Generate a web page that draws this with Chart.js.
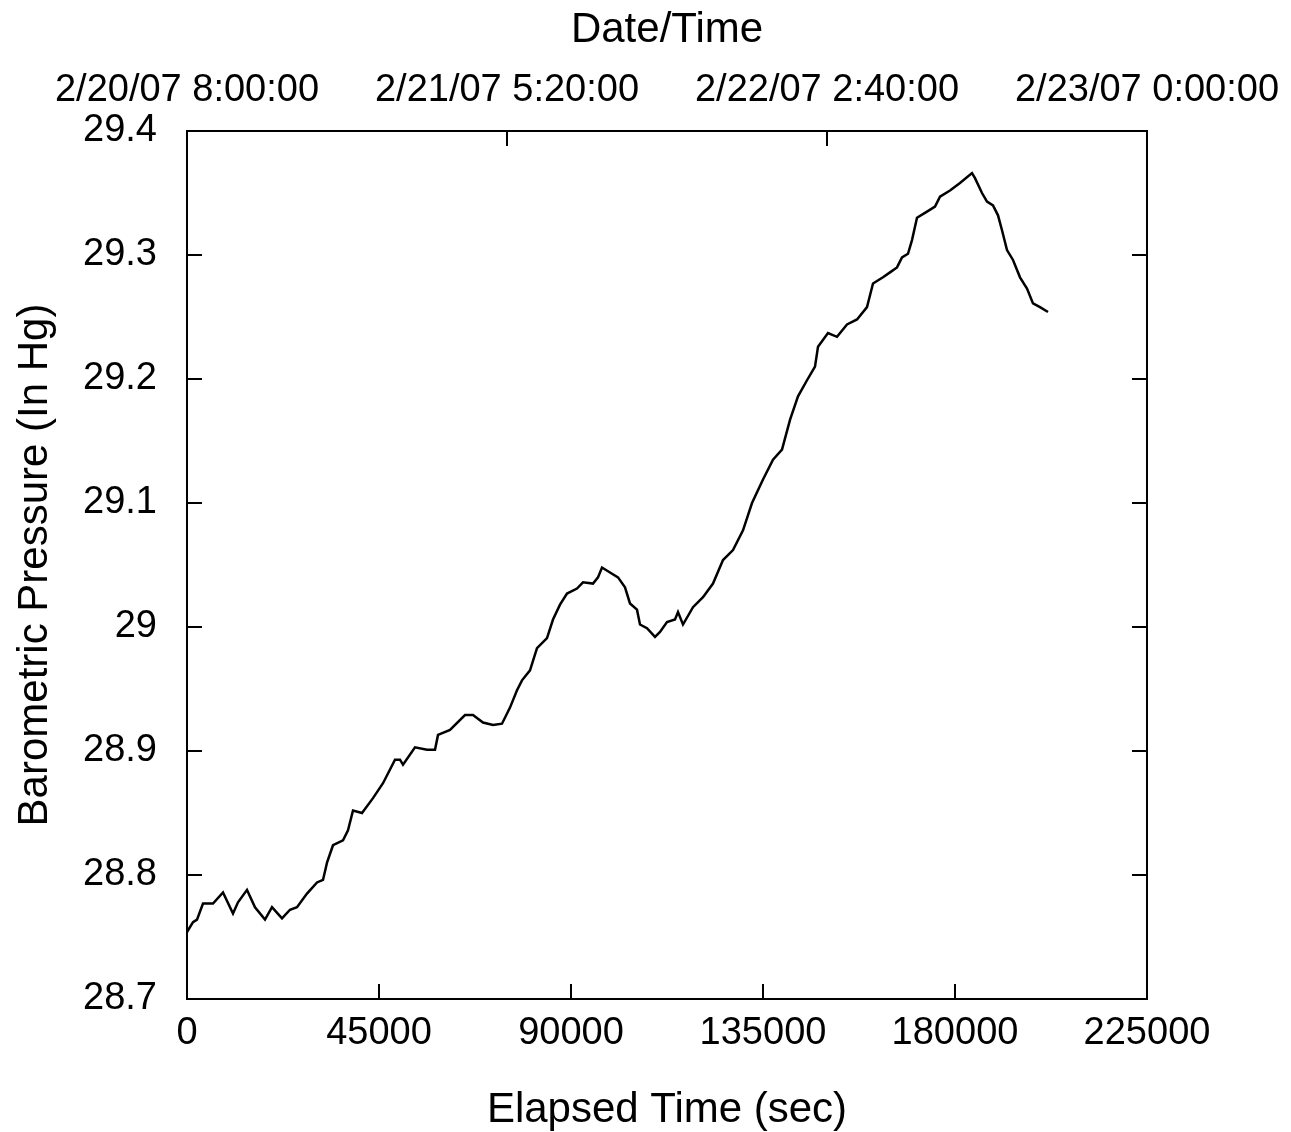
<!DOCTYPE html>
<html>
<head>
<meta charset="utf-8">
<title>Barometric Pressure</title>
<script src="https://cdn.jsdelivr.net/npm/chart.js@4/dist/chart.umd.min.js"></script>
<style>
    body { margin: 0; background: #fff; }
    #wrap { width: 1291px; height: 1132px; }
</style>
</head>
<body>
<div id="wrap"><canvas id="chart" width="1291" height="1132"></canvas></div>
<script>
// elapsed time in seconds
const elapsedSec = [
    0, 1406, 2344, 3750, 6094, 8438, 10781, 11953, 14063, 15938,
    18281, 19922, 22266, 24141, 25781, 28125, 30469, 31875, 32813, 34219,
    36563, 37734, 38906, 41016, 43594, 45938, 48750, 49922, 50625, 53438,
    56250, 58125, 58828, 61641, 65156, 67031, 69375, 71719, 73828, 75703,
    77344, 78516, 80391, 82031, 84375, 85781, 87422, 89063, 91406, 92813,
    95156, 96328, 97266, 99141, 101016, 102656, 103828, 105469, 106172, 107813,
    109688, 110859, 112500, 114375, 115078, 116250, 118594, 120938, 123281, 125625,
    127969, 130313, 132422, 135000, 137344, 139453, 141328, 143203, 145313, 147188,
    147891, 150234, 152344, 154688, 157031, 159375, 160781, 163125, 164766, 166406,
    167578, 168984, 169922, 171094, 173438, 175313, 176484, 178828, 181172, 183984,
    184688, 186328, 187500, 188906, 190078, 191016, 192188, 193594, 195234, 196875,
    198281, 199922, 201797
];

// barometric pressure (In Hg)
const pressure = [
    28.754, 28.762, 28.764, 28.777, 28.777, 28.786, 28.769, 28.778, 28.788, 28.774,
    28.764, 28.774, 28.765, 28.772, 28.774, 28.785, 28.794, 28.796, 28.810, 28.824,
    28.828, 28.836, 28.852, 28.850, 28.862, 28.874, 28.893, 28.893, 28.889, 28.903,
    28.901, 28.901, 28.913, 28.917, 28.929, 28.929, 28.923, 28.921, 28.922, 28.935,
    28.949, 28.957, 28.965, 28.983, 28.991, 29.006, 29.018, 29.027, 29.031, 29.036,
    29.035, 29.040, 29.048, 29.044, 29.040, 29.032, 29.019, 29.014, 29.002, 28.999,
    28.992, 28.996, 29.004, 29.006, 29.012, 29.002, 29.016, 29.024, 29.035, 29.054,
    29.062, 29.078, 29.100, 29.119, 29.135, 29.143, 29.167, 29.186, 29.199, 29.210,
    29.226, 29.237, 29.234, 29.244, 29.248, 29.258, 29.277, 29.282, 29.286, 29.290,
    29.298, 29.301, 29.312, 29.330, 29.335, 29.339, 29.347, 29.352, 29.358, 29.366,
    29.362, 29.350, 29.343, 29.340, 29.332, 29.320, 29.304, 29.296, 29.282, 29.273,
    29.261, 29.258, 29.254
];

// labels of the top (date/time) axis
const dateLabels = ['2/20/07 8:00:00', '2/21/07 5:20:00', '2/22/07 2:40:00', '2/23/07 0:00:00'];

const FONT = 'Liberation Sans, Arial, Helvetica, sans-serif';
const TICK = 15;

// box around the plot and the inward tick marks
const frameTicks = {
    id: 'frameTicks',
    afterDatasetsDraw(chart) {
        const {ctx, chartArea: a, scales} = chart;
        ctx.save();
        ctx.strokeStyle = '#000';
        ctx.lineWidth = 2;
        ctx.strokeRect(a.left, a.top, a.right - a.left, a.bottom - a.top);
        ctx.beginPath();
        scales.y.ticks.forEach(t => {
            let py = scales.y.getPixelForValue(t.value);
            ctx.moveTo(a.left, py); ctx.lineTo(a.left + TICK, py);
            ctx.moveTo(a.right, py); ctx.lineTo(a.right - TICK, py);
        });
        scales.x.ticks.forEach(t => {
            let px = scales.x.getPixelForValue(t.value);
            ctx.moveTo(px, a.bottom); ctx.lineTo(px, a.bottom - TICK);
        });
        scales.xTop.ticks.forEach(t => {
            let px = scales.xTop.getPixelForValue(t.value);
            ctx.moveTo(px, a.top); ctx.lineTo(px, a.top + TICK);
        });
        ctx.stroke();
        ctx.restore();
    }
};

// keep the x axes from asking for extra side room, the layout padding handles it
function fixX(height) {
    return s => {
        s.height = height;
        s.paddingLeft = 0;
        s.paddingRight = 0;
    };
}

const points = elapsedSec.map((s, i) => ({x: s, y: pressure[i]}));

new Chart(document.getElementById('chart'), {
    type: 'line',
    data: {
        datasets: [{
            data: points,
            borderColor: '#000',
            borderWidth: 2.5,
            pointRadius: 0,
            tension: 0,
            fill: false
        }]
    },
    options: {
        responsive: false,
        animation: false,
        devicePixelRatio: 1,
        layout: {padding: {left: 0, top: 0, bottom: 0, right: 144}},
        plugins: {
            legend: {display: false},
            tooltip: {enabled: false}
        },
        scales: {
            x: {
                type: 'linear',
                position: 'bottom',
                min: 0,
                max: 225000,
                afterFit: fixX(133),
                grid: {display: false, drawTicks: false},
                border: {display: false},
                ticks: {
                    stepSize: 45000,
                    padding: 12,
                    color: '#000',
                    maxRotation: 0,
                    font: {family: FONT, size: 38},
                    callback: v => String(v)
                },
                title: {
                    display: true,
                    text: 'Elapsed Time (sec)',
                    color: '#000',
                    padding: {top: 0, bottom: -4},
                    font: {family: FONT, size: 42}
                }
            },
            xTop: {
                type: 'linear',
                position: 'top',
                axis: 'x',
                min: 0,
                max: 225000,
                afterFit: fixX(131),
                grid: {display: false, drawTicks: false},
                border: {display: false},
                ticks: {
                    stepSize: 75000,
                    padding: 18,
                    color: '#000',
                    maxRotation: 0,
                    autoSkip: false,
                    font: {family: FONT, size: 38},
                    callback: v => dateLabels[Math.round(v / 75000)]
                },
                title: {
                    display: true,
                    text: 'Date/Time',
                    color: '#000',
                    padding: {top: 5, bottom: 0},
                    font: {family: FONT, size: 42}
                }
            },
            y: {
                min: 28.7,
                max: 29.4,
                afterFit: s => { s.width = 187; },
                grid: {display: false, drawTicks: false},
                border: {display: false},
                ticks: {
                    stepSize: 0.1,
                    padding: 30,
                    color: '#000',
                    font: {family: FONT, size: 38},
                    callback: v => String(Number(v.toFixed(1)))
                },
                title: {
                    display: true,
                    text: 'Barometric Pressure (In Hg)',
                    color: '#000',
                    padding: {top: 10, bottom: 0},
                    font: {family: FONT, size: 42}
                }
            }
        }
    },
    plugins: [frameTicks]
});
</script>
</body>
</html>
